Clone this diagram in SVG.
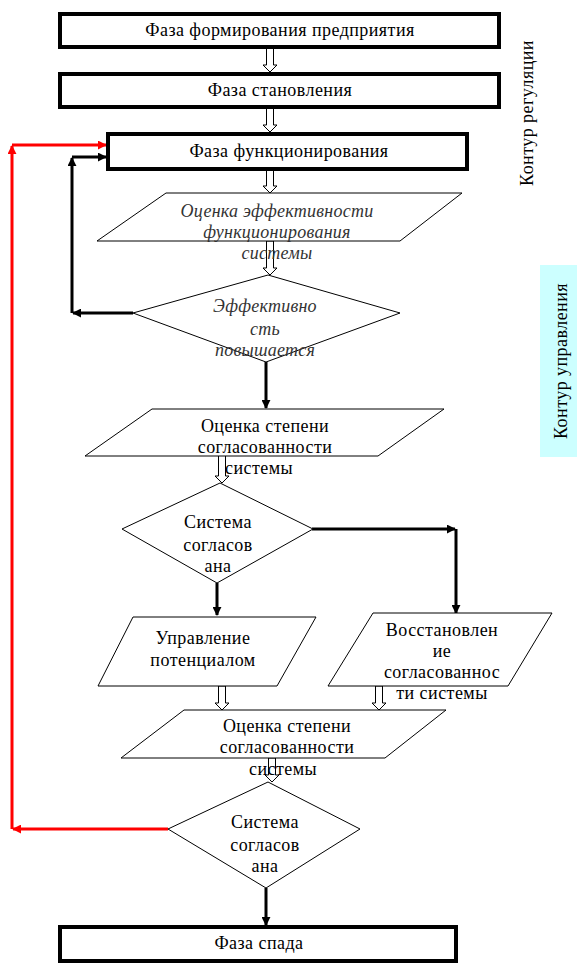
<svg xmlns="http://www.w3.org/2000/svg" width="577" height="974" viewBox="0 0 577 974">
<style>
.box{fill:#fff;stroke:#000;stroke-width:4}
.shape{fill:#fff;stroke:#000;stroke-width:1}
.hollow{fill:#fff;stroke:#000;stroke-width:1}
.t{font-family:"Liberation Serif","Times New Roman",serif;font-size:18px;letter-spacing:0.45px;fill:#000;text-anchor:middle}
.i{font-style:italic;fill:#333;letter-spacing:0.25px}
.blk{fill:none;stroke:#000;stroke-width:3}
.red{fill:none;stroke:#ff0000;stroke-width:3}
</style>
<defs>
<marker id="ab" viewBox="0 0 10 10" refX="9" refY="5" markerWidth="3" markerHeight="3" orient="auto" markerUnits="strokeWidth">
<path d="M0,0 L10,5 L0,10 z" fill="#000"/>
</marker>
<marker id="ar" viewBox="0 0 10 10" refX="9" refY="5" markerWidth="3" markerHeight="3" orient="auto" markerUnits="strokeWidth">
<path d="M0,0 L10,5 L0,10 z" fill="#ff0000"/>
</marker>
</defs>
<rect x="540" y="265" width="37" height="192" fill="#ccffff"/>
<g id="connectors">
<polygon class="hollow" points="266.5,48 273.5,48 273.5,65 277,65 270,72 263,65 266.5,65"/>
<polygon class="hollow" points="266.5,108 273.5,108 273.5,125 277,125 270,132 263,125 266.5,125"/>
<polygon class="hollow" points="266.5,170 273.5,170 273.5,186 277,186 270,193 263,186 266.5,186"/>
<polygon class="hollow" points="266.5,241 273.5,241 273.5,268 277,268 270,275 263,268 266.5,268"/>
<polygon class="hollow" points="218.5,455 225.5,455 225.5,476 229,476 222,483 215,476 218.5,476"/>
<polygon class="hollow" points="218.5,686 225.5,686 225.5,703 229,703 222,710 215,703 218.5,703"/>
<polygon class="hollow" points="375.5,686 382.5,686 382.5,703 386,703 379,710 372,703 375.5,703"/>
<polygon class="hollow" points="268.5,758 275.5,758 275.5,775 279,775 272,782 265,775 268.5,775"/>
<line class="blk" x1="133" y1="313" x2="73" y2="313" marker-end="url(#ab)"/>
<line class="blk" x1="72" y1="313" x2="72" y2="158" marker-end="url(#ab)"/>
<line class="blk" x1="72" y1="157" x2="106" y2="157" marker-end="url(#ab)"/>
<line class="blk" x1="266" y1="362" x2="266" y2="408" marker-end="url(#ab)"/>
<line class="blk" x1="312" y1="529" x2="455" y2="529" marker-end="url(#ab)"/>
<line class="blk" x1="456" y1="529" x2="456" y2="613" marker-end="url(#ab)"/>
<line class="blk" x1="217" y1="583" x2="217" y2="615" marker-end="url(#ab)"/>
<line class="blk" x1="266" y1="888" x2="266" y2="925" marker-end="url(#ab)"/>
<line class="red" x1="168" y1="829" x2="13" y2="829" marker-end="url(#ar)"/>
<line class="red" x1="12" y1="829" x2="12" y2="146" marker-end="url(#ar)"/>
<line class="red" x1="12" y1="145" x2="106" y2="145" marker-end="url(#ar)"/>
</g>
<g id="n1"><rect class="box" x="60" y="14" width="439" height="33"/><text class="t" x="280" y="36">Фаза формирования предприятия</text></g>
<g id="n2"><rect class="box" x="60" y="74" width="439" height="33"/><text class="t" x="280" y="96">Фаза становления</text></g>
<g id="n3"><rect class="box" x="108" y="134" width="359" height="35"/><text class="t" x="289" y="157">Фаза функционирования</text></g>
<g id="n4"><polygon class="shape" points="166,193 462,193 400,241 97,241"/><text class="t i" x="277" y="217">Оценка эффективности</text><text class="t i" x="277" y="238">функционирования</text><text class="t i" x="277" y="259">системы</text></g>
<g id="n5"><polygon class="shape" points="268,275 400,313 266,362 133,313"/><text class="t i" x="265" y="312">Эффективно</text><text class="t i" x="265" y="335">сть</text><text class="t i" x="265" y="356">повышается</text></g>
<g id="n6"><polygon class="shape" points="152,409 444,409 378,456 85,456"/><text class="t" x="265" y="432">Оценка степени</text><text class="t" x="265" y="453">согласованности</text><text class="t" x="259" y="474">системы</text></g>
<g id="n7"><polygon class="shape" points="220,483 313,529 217,583 122,529"/><text class="t" x="218" y="528">Система</text><text class="t" x="218" y="551">согласов</text><text class="t" x="218" y="572">ана</text></g>
<g id="n8"><polygon class="shape" points="133,617 316,617 277,686 98,686"/><text class="t" x="203" y="644">Управление</text><text class="t" x="203" y="666">потенциалом</text></g>
<g id="n9"><polygon class="shape" points="373,613 552,613 508,686 328,686"/><text class="t" x="442" y="636">Восстановлен</text><text class="t" x="442" y="657">ие</text><text class="t" x="442" y="678">согласованнос</text><text class="t" x="442" y="699">ти системы</text></g>
<g id="n10"><polygon class="shape" points="184,710 446,710 385,758 121,758"/><text class="t" x="287" y="732">Оценка степени</text><text class="t" x="287" y="753">согласованности</text><text class="t" x="283" y="775">системы</text></g>
<g id="n11"><polygon class="shape" points="268,782 360,829 266,888 168,829"/><text class="t" x="265" y="828">Система</text><text class="t" x="265" y="851">согласов</text><text class="t" x="265" y="872">ана</text></g>
<g id="n12"><rect class="box" x="60" y="927" width="396" height="34"/><text class="t" x="259" y="949">Фаза спада</text></g>
<text class="t" transform="translate(533,113) rotate(-90)">Контур регуляции</text>
<text class="t" transform="translate(567,361) rotate(-90)">Контур управления</text>
</svg>
